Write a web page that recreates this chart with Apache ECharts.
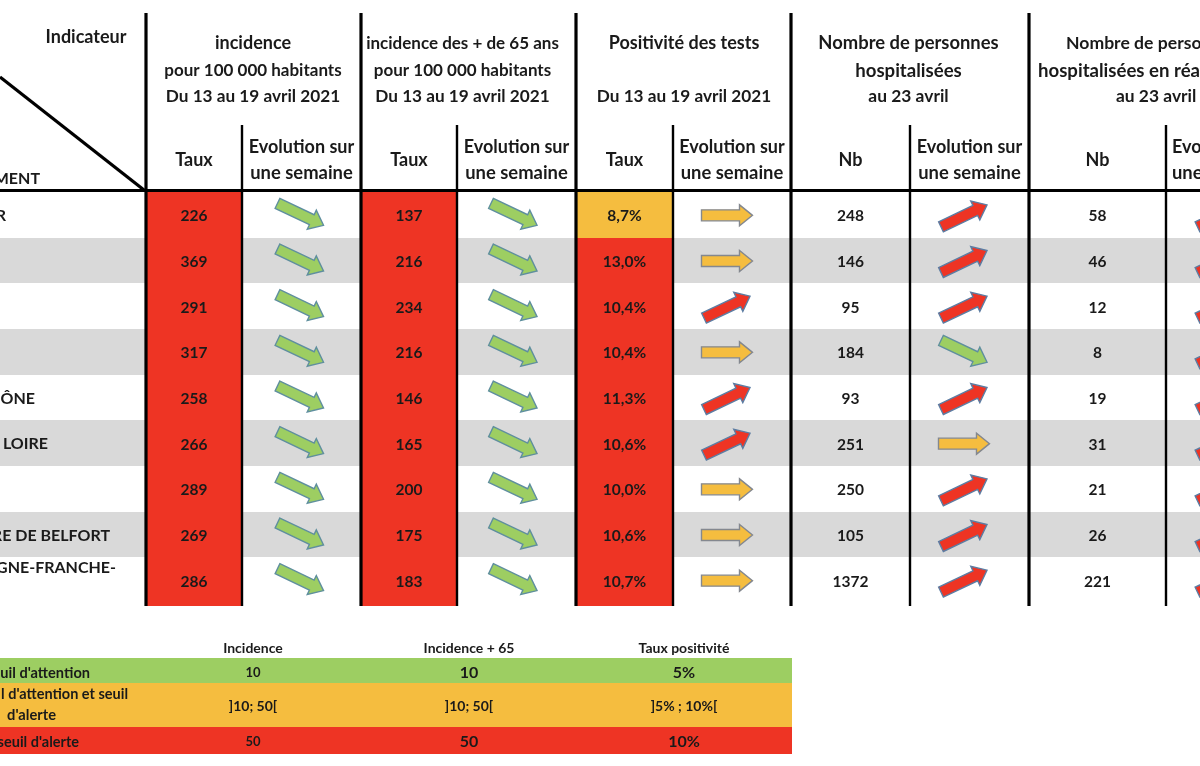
<!DOCTYPE html>
<html><head><meta charset="utf-8">
<style>html,body{margin:0;padding:0;background:#fff}#c{width:1200px;height:766px}</style>
<script src="https://cdn.jsdelivr.net/npm/echarts@6/dist/echarts.min.js"></script>
</head><body><div id="c"></div>
<script>
// ---- data ----
const departments = ['R','','','','ÔNE','LOIRE','','RE DE BELFORT','GNE-FRANCHE-'];
const incidence = [226,369,291,317,258,266,289,269,286];
const incidence65 = [137,216,234,216,146,165,200,175,183];
const positivity = [8.7,13.0,10.4,10.4,11.3,10.6,10.0,10.6,10.7];
const hospitalized = [248,146,95,184,93,251,250,105,1372];
const icu = [58,46,12,8,19,31,21,26,221];
const trendIncidence = ['d','d','d','d','d','d','d','d','d'];
const trendIncidence65 = ['d','d','d','d','d','d','d','d','d'];
const trendPositivity = ['f','f','u','f','u','u','f','f','f'];
const trendHospitalized = ['u','u','u','d','u','f','u','u','u'];
const trendIcu = ['u','u','u','u','u','u','u','u','u'];
const groupTitles = [
  ['incidence','pour 100 000 habitants','Du 13 au 19 avril 2021'],
  ['incidence des + de 65 ans','pour 100 000 habitants','Du 13 au 19 avril 2021'],
  ['Positivité des tests','','Du 13 au 19 avril 2021'],
  ['Nombre de personnes','hospitalisées','au 23 avril']
];
const subTitles = ['Taux','Taux','Taux','Nb','Nb'];
const legendHeaders = ['Incidence','Incidence + 65','Taux positivité'];
const legendGreen = ['10','10','5%'];
const legendOrange = [']10; 50[',']10; 50[',']5% ; 10%['];
const legendRed = ['50','50','10%'];

// ---- layout and style ----
const FONT='Lato';
const RED='#ee3424',ORANGE='#f5bd3f',GREEN='#9dce62',GRAY='#d9d9d9',INK='#1a1a1a';
const W=1200,H=766;
const groupEdges=[146,361,576,791,1029];
const valueEdges=[146,361,576,791,1029];
const splitEdges=[242,457,673,910,1166];
const nextEdges=[361,576,791,1029,1285];
const arrowShift=[1,2.5,5,5.5,5];
const tableBottom=606, headRule=190.5;
const columns=[
 {v:incidence,t:trendIncidence,fill:()=>RED},
 {v:incidence65,t:trendIncidence65,fill:()=>RED},
 {v:positivity,t:trendPositivity,fill:x=>x>=10?RED:ORANGE,fmt:x=>x.toFixed(1).replace('.',',')+'%'},
 {v:hospitalized,t:trendHospitalized},
 {v:icu,t:trendIcu}
];
const rows=departments.map((_,i)=>i);
const trendStyle={
 d:{a:25.5,dy:-0.5,fill:GREEN,stroke:'#5f8f9e'},
 f:{a:0,dy:0.5,fill:ORANGE,stroke:'#84888f'},
 u:{a:-25.5,dy:1,fill:RED,stroke:'#5c7da3'}
};

function arrowPoints(cx,cy,deg){
  const L=25.5,hs=5.5,hh=10.5,hl=13,r=deg*Math.PI/180,c=Math.cos(r),s=Math.sin(r);
  return [[-L,-hs],[L-hl,-hs],[L-hl,-hh],[L,0],[L-hl,hh],[L-hl,hs],[-L,hs]]
    .map(p=>[cx+p[0]*c-p[1]*s,cy+p[0]*s+p[1]*c]);
}

// ---- series on the row grid ----
const rowAxes={xAxisIndex:0,yAxisIndex:0,coordinateSystem:'cartesian2d',type:'custom',silent:true,animation:false,clip:false};
const series=[];
series.push({...rowAxes,z:1,data:rows.map(i=>[0,i]),encode:{x:0,y:1},renderItem(p,api){
  if(p.dataIndex%2===0) return null;
  const a=api.coord([0,p.dataIndex]),b=api.coord([W,p.dataIndex]),h=api.size([0,1])[1];
  const top=Math.round(a[1]-h/2),bottom=Math.round(a[1]+h/2);
  return {type:'rect',shape:{x:a[0],y:top,width:b[0]-a[0],height:bottom-top},style:{fill:GRAY}};
}});
columns.forEach((col,ci)=>{
  if(col.fill){
    series.push({...rowAxes,z:2,data:col.v.map((v,i)=>[valueEdges[ci],i,v]),encode:{x:0,y:1},renderItem(p,api){
      const a=api.coord([valueEdges[ci],p.dataIndex]),b=api.coord([splitEdges[ci],p.dataIndex]),h=api.size([0,1])[1];
      const top=Math.round(a[1]-h/2),bottom=p.dataIndex===rows.length-1?tableBottom:Math.round(a[1]+h/2);
      return {type:'rect',shape:{x:a[0],y:top,width:b[0]-a[0],height:bottom-top},style:{fill:col.fill(col.v[p.dataIndex])}};
    }});
  }
  series.push({...rowAxes,z:6,data:col.v.map((v,i)=>[(valueEdges[ci]+splitEdges[ci])/2,i,v]),encode:{x:0,y:1},renderItem(p,api){
    const a=api.coord([api.value(0),p.dataIndex]),v=col.v[p.dataIndex];
    return {type:'text',style:{x:a[0],y:a[1]+1.5,text:col.fmt?col.fmt(v):String(v),align:'center',verticalAlign:'middle',fill:INK,fontFamily:FONT,fontWeight:'bold',fontSize:15.5}};
  }});
  series.push({...rowAxes,z:5,data:col.t.map((t,i)=>[(splitEdges[ci]+nextEdges[ci])/2-arrowShift[ci],i]),encode:{x:0,y:1},renderItem(p,api){
    const a=api.coord([api.value(0),p.dataIndex]),st=trendStyle[col.t[p.dataIndex]];
    return {type:'polygon',shape:{points:arrowPoints(a[0],a[1]+st.dy,st.a)},style:{fill:st.fill,stroke:st.stroke,lineWidth:1.4}};
  }});
});
const labelEnds={0:6,4:35,5:48,7:110,8:116};
series.push({...rowAxes,z:6,data:rows.map(i=>[labelEnds[i]||0,i]),encode:{x:0,y:1},renderItem(p,api){
  const t=departments[p.dataIndex]; if(!t) return null;
  const a=api.coord([api.value(0),p.dataIndex]);
  return {type:'text',style:{x:a[0],y:a[1]+(p.dataIndex===8?-12:1),text:t,align:'right',verticalAlign:'middle',fill:INK,fontFamily:FONT,fontWeight:'bold',fontSize:16}};
}});

// ---- series on the page grid: rules, headers, legend ----
const pageAxes={xAxisIndex:1,yAxisIndex:1,coordinateSystem:'cartesian2d',type:'custom',silent:true,animation:false,clip:false};
const rules=[];
groupEdges.forEach(x=>rules.push([x,13,x,tableBottom,3.2]));
splitEdges.forEach(x=>rules.push([x,125,x,tableBottom,2.4]));
rules.push([0,headRule,W,headRule,3.2]);
rules.push([0,77,144,190,3.2]);
series.push({...pageAxes,z:4,data:rules,encode:{x:0,y:1},renderItem(p,api){
  const r=rules[p.dataIndex],a=api.coord([r[0],r[1]]),b=api.coord([r[2],r[3]]);
  return {type:'line',shape:{x1:a[0],y1:a[1],x2:b[0],y2:b[1]},style:{stroke:'#000',lineWidth:r[4]}};
}});
const bands=[[658,683,GREEN],[683,727,ORANGE],[727,754,RED]];
series.push({...pageAxes,z:1,data:bands.map(b=>[0,b[0],792,b[1]]),encode:{x:0,y:1},renderItem(p,api){
  const b=bands[p.dataIndex],a=api.coord([0,b[0]]),c=api.coord([792,b[1]]);
  return {type:'rect',shape:{x:a[0],y:a[1],width:c[0]-a[0],height:c[1]-a[1]},style:{fill:b[2]}};
}});

const texts=[];
function T(x,y,text,size,align){ if(text) texts.push({x,y,text,size,align:align||'center'}); }
T(86,37,'Indicateur',18);
T(40,179,'MENT',16,'right');
const groupSizes=[[18,17,17.2],[17,17,17.2],[18,17,17.2],[18.4,18.6,17.4]];
groupTitles.forEach((g,i)=>{
  const cx=[253,462.5,684,908.5][i];
  g.forEach((s,k)=>T(cx,[43.5,70.5,96.5][k],s,groupSizes[i][k]));
});
T(1066,43.5,'Nombre de perso',17.6,'left');
T(1038,70.5,'hospitalisées en réa',18.6,'left');
T(1116,96.5,'au 23 avril',17.4,'left');
subTitles.forEach((s,i)=>T((valueEdges[i]+splitEdges[i])/2,160.5,s,18));
for(let i=0;i<4;i++){
  const cx=(splitEdges[i]+nextEdges[i])/2;
  T(cx,147.5,'Evolution sur',18);
  T(cx,173.5,'une semaine',18.4);
}
T(1172,147.5,'Evo',18,'left');
T(1172,173.5,'une',18.4,'left');
const legendX=[253,469,684];
legendHeaders.forEach((s,i)=>T(legendX[i],648,s,14));
legendGreen.forEach((s,i)=>T(legendX[i],673,s,i?16:13));
legendOrange.forEach((s,i)=>T(legendX[i],706,s,14));
legendRed.forEach((s,i)=>T(legendX[i],742,s,i?16:13));
T(90,673,"uil d'attention",14.6,'right');
T(128,694,"l d'attention et seuil",14.5,'right');
T(56,715,"d'alerte",14.7,'right');
T(79,742,"seuil d'alerte",14.5,'right');
series.push({...pageAxes,z:6,data:texts.map(t=>[t.x,t.y]),encode:{x:0,y:1},renderItem(p,api){
  const t=texts[p.dataIndex],a=api.coord([t.x,t.y]);
  return {type:'text',style:{x:a[0],y:a[1],text:t.text,align:t.align,verticalAlign:'middle',fill:INK,fontFamily:FONT,fontWeight:'bold',fontSize:t.size}};
}});

const chart=echarts.init(document.getElementById('c'),null,{renderer:'canvas'});
chart.setOption({
  animation:false,backgroundColor:'#fff',
  grid:[{left:0,right:0,top:192,height:411},{left:0,right:0,top:0,bottom:0}],
  xAxis:[{type:'value',gridIndex:0,min:0,max:W,show:false},{type:'value',gridIndex:1,min:0,max:W,show:false}],
  yAxis:[{type:'category',gridIndex:0,inverse:true,data:rows.map(String),show:false},{type:'value',gridIndex:1,min:0,max:H,inverse:true,show:false}],
  series
});
</script></body></html>
